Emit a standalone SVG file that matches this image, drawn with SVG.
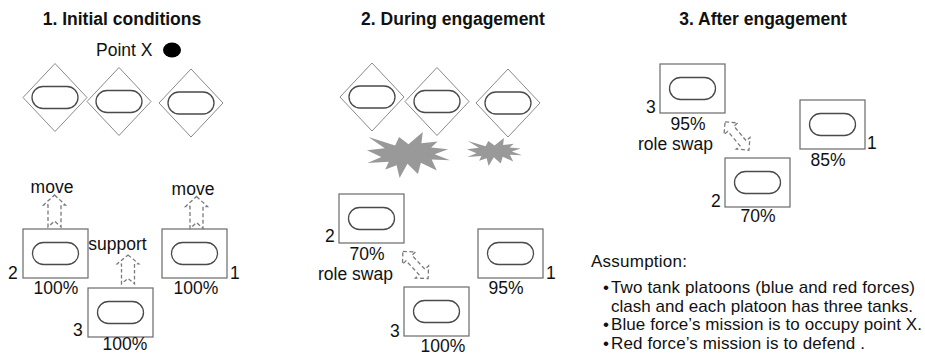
<svg xmlns="http://www.w3.org/2000/svg" xmlns:xlink="http://www.w3.org/1999/xlink" width="925" height="362" viewBox="0 0 925 362">
  <style>
    text { font-family: "Liberation Sans", Arial, sans-serif; fill: #111; }
    .title { font-size: 17.5px; font-weight: bold; text-anchor: middle; }
    .lbl { font-size: 17.5px; }
    .mid { text-anchor: middle; }
    .note { font-size: 17px; }
    .box { fill: #fff; stroke: #6a6a6a; stroke-width: 1.2; }
    .hull { fill: #fff; stroke: #4a4a4a; stroke-width: 1.3; }
    .diamond { fill: #fff; stroke: #8a8a8a; stroke-width: 1; }
    .burst { fill: #999; stroke: none; }
    .flow { fill: none; stroke: #7a7a7a; stroke-width: 1.3; stroke-dasharray: 4 2.5; stroke-linejoin: miter; }
  </style>
  <defs>
    <!-- tank seen in a square frame (blue force) -->
    <g id="tank-box">
      <rect class="box" x="0" y="0" width="65" height="49"/>
      <rect class="hull" x="9.5" y="13.5" width="46" height="22" rx="11"/>
    </g>
    <!-- tank inside a diamond (red force) -->
    <g id="tank-diamond">
      <polygon class="diamond" points="0,-34 32,0 0,34 -32,0"/>
      <rect class="hull" x="-23" y="-11" width="46" height="22" rx="11"/>
    </g>
    <!-- explosion outline in a 100 x 100 box -->
    <path id="burst" class="burst" d="M50,26.85 L67.23,0 L65.53,24.65 L85.09,20.63 L77.32,33.87 L97.67,37.67 L81.51,48.5 L100,61.53 L77.95,59.92 L84,83.77 L64.91,66.93 L61.33,91.38 L48.76,69.14 L39.28,100 L35.72,72.35 L22.05,81.56 L26.24,64.52 L0.63,67.53 L17.23,54.51 L0,39.88 L21.42,35.26 L1.71,10.63 L33.85,29.26 L38.67,10.63 Z"/>
    <!-- notched up-arrow, tip at 0,0 -->
    <path id="up-arrow" class="flow" d="M0,0 L11,10 L6.5,10 L6.5,32 L0,26 L-6.5,32 L-6.5,10 L-11,10 Z"/>
    <!-- double-headed arrow along x, centred on 0,0 -->
    <path id="swap-arrow" class="flow" d="M-18.5,0 L-9.5,-9 L-9.5,-4 L9.5,-4 L9.5,-9 L18.5,0 L9.5,9 L9.5,4 L-9.5,4 L-9.5,9 Z"/>
  </defs>

  <!-- headings -->
  <text class="title" x="122" y="25">1. Initial conditions</text>
  <text class="title" x="453" y="25">2. During engagement</text>
  <text class="title" x="763" y="25">3. After engagement</text>

  <!-- objective -->
  <g id="point-x">
    <text class="lbl" x="96" y="56">Point X</text>
    <ellipse cx="172" cy="50" rx="9" ry="7.5" fill="#000"/>
  </g>

  <!-- stage 1: red force -->
  <g id="s1-red-a"><use xlink:href="#tank-diamond" transform="translate(55,97.5)"/></g>
  <g id="s1-red-b"><use xlink:href="#tank-diamond" transform="translate(119,101.5)"/></g>
  <g id="s1-red-c"><use xlink:href="#tank-diamond" transform="translate(191,103)"/></g>

  <!-- stage 1: blue force -->
  <g id="s1-tank2">
    <use xlink:href="#tank-box" transform="translate(23,229)"/>
    <text class="lbl" x="8" y="279">2</text>
    <text class="lbl mid" x="56" y="294">100%</text>
  </g>
  <g id="s1-tank1">
    <use xlink:href="#tank-box" transform="translate(162,229)"/>
    <text class="lbl" x="230" y="279">1</text>
    <text class="lbl mid" x="196" y="294">100%</text>
  </g>
  <g id="s1-tank3">
    <use xlink:href="#tank-box" transform="translate(88,288)"/>
    <text class="lbl" x="73" y="336">3</text>
    <text class="lbl mid" x="125" y="350">100%</text>
  </g>

  <!-- stage 2: red force and hits -->
  <g id="s2-red-a"><use xlink:href="#tank-diamond" transform="translate(372,97)"/></g>
  <g id="s2-red-b"><use xlink:href="#tank-diamond" transform="translate(437,101.5)"/></g>
  <g id="s2-red-c"><use xlink:href="#tank-diamond" transform="translate(508,103)"/></g>
  <g id="s2-hit-a"><use xlink:href="#burst" transform="translate(367,132) scale(0.83,0.46)"/></g>
  <g id="s2-hit-b"><use xlink:href="#burst" transform="translate(467,138) scale(0.55,0.28)"/></g>

  <!-- stage 2: blue force -->
  <g id="s2-tank2">
    <use xlink:href="#tank-box" transform="translate(339,194)"/>
    <text class="lbl" x="325" y="242">2</text>
    <text class="lbl mid" x="367" y="260">70%</text>
  </g>
  <g id="s2-tank1">
    <use xlink:href="#tank-box" transform="translate(478,229)"/>
    <text class="lbl" x="546" y="279">1</text>
    <text class="lbl mid" x="506" y="294">95%</text>
  </g>
  <g id="s2-tank3">
    <use xlink:href="#tank-box" transform="translate(404,287)"/>
    <text class="lbl" x="390" y="337">3</text>
    <text class="lbl mid" x="443" y="352">100%</text>
  </g>

  <!-- stage 3: blue force -->
  <g id="s3-tank3">
    <use xlink:href="#tank-box" transform="translate(660,64)"/>
    <text class="lbl" x="646" y="113">3</text>
    <text class="lbl mid" x="688" y="130">95%</text>
  </g>
  <g id="s3-tank1">
    <use xlink:href="#tank-box" transform="translate(800,100)"/>
    <text class="lbl" x="867" y="149">1</text>
    <text class="lbl mid" x="828" y="166">85%</text>
  </g>
  <g id="s3-tank2">
    <use xlink:href="#tank-box" transform="translate(725,158)"/>
    <text class="lbl" x="711" y="207">2</text>
    <text class="lbl mid" x="758" y="222">70%</text>
  </g>

  <!-- movement and role arrows -->
  <g id="connectors">
    <use xlink:href="#up-arrow" transform="translate(54.5,195)"/>
    <text class="lbl mid" x="52" y="193">move</text>
    <use xlink:href="#up-arrow" transform="translate(196.5,196.5)"/>
    <text class="lbl mid" x="193" y="195">move</text>
    <use xlink:href="#up-arrow" transform="translate(128,255) scale(1,0.9)"/>
    <text class="lbl mid" x="117.5" y="250">support</text>

    <use xlink:href="#swap-arrow" transform="translate(415.5,265) rotate(47)"/>
    <text class="lbl mid" x="355.5" y="280">role swap</text>
    <use xlink:href="#swap-arrow" transform="translate(737,136) rotate(50)"/>
    <text class="lbl mid" x="675.5" y="150">role swap</text>
  </g>

  <!-- scenario notes -->
  <g id="assumption">
    <text class="note" x="591" y="267" textLength="96">Assumption:</text>
    <text class="note" x="603" y="293">•</text>
    <text class="note" x="611" y="293" textLength="304" lengthAdjust="spacing">Two tank platoons (blue and red forces)</text>
    <text class="note" x="611" y="312" textLength="302" lengthAdjust="spacing">clash and each platoon has three tanks.</text>
    <text class="note" x="603" y="330">•</text>
    <text class="note" x="611" y="330" textLength="311" lengthAdjust="spacing">Blue force’s mission is to occupy point X.</text>
    <text class="note" x="603" y="349">•</text>
    <text class="note" x="611" y="349" textLength="254" lengthAdjust="spacing">Red force’s mission is to defend .</text>
  </g>
</svg>
